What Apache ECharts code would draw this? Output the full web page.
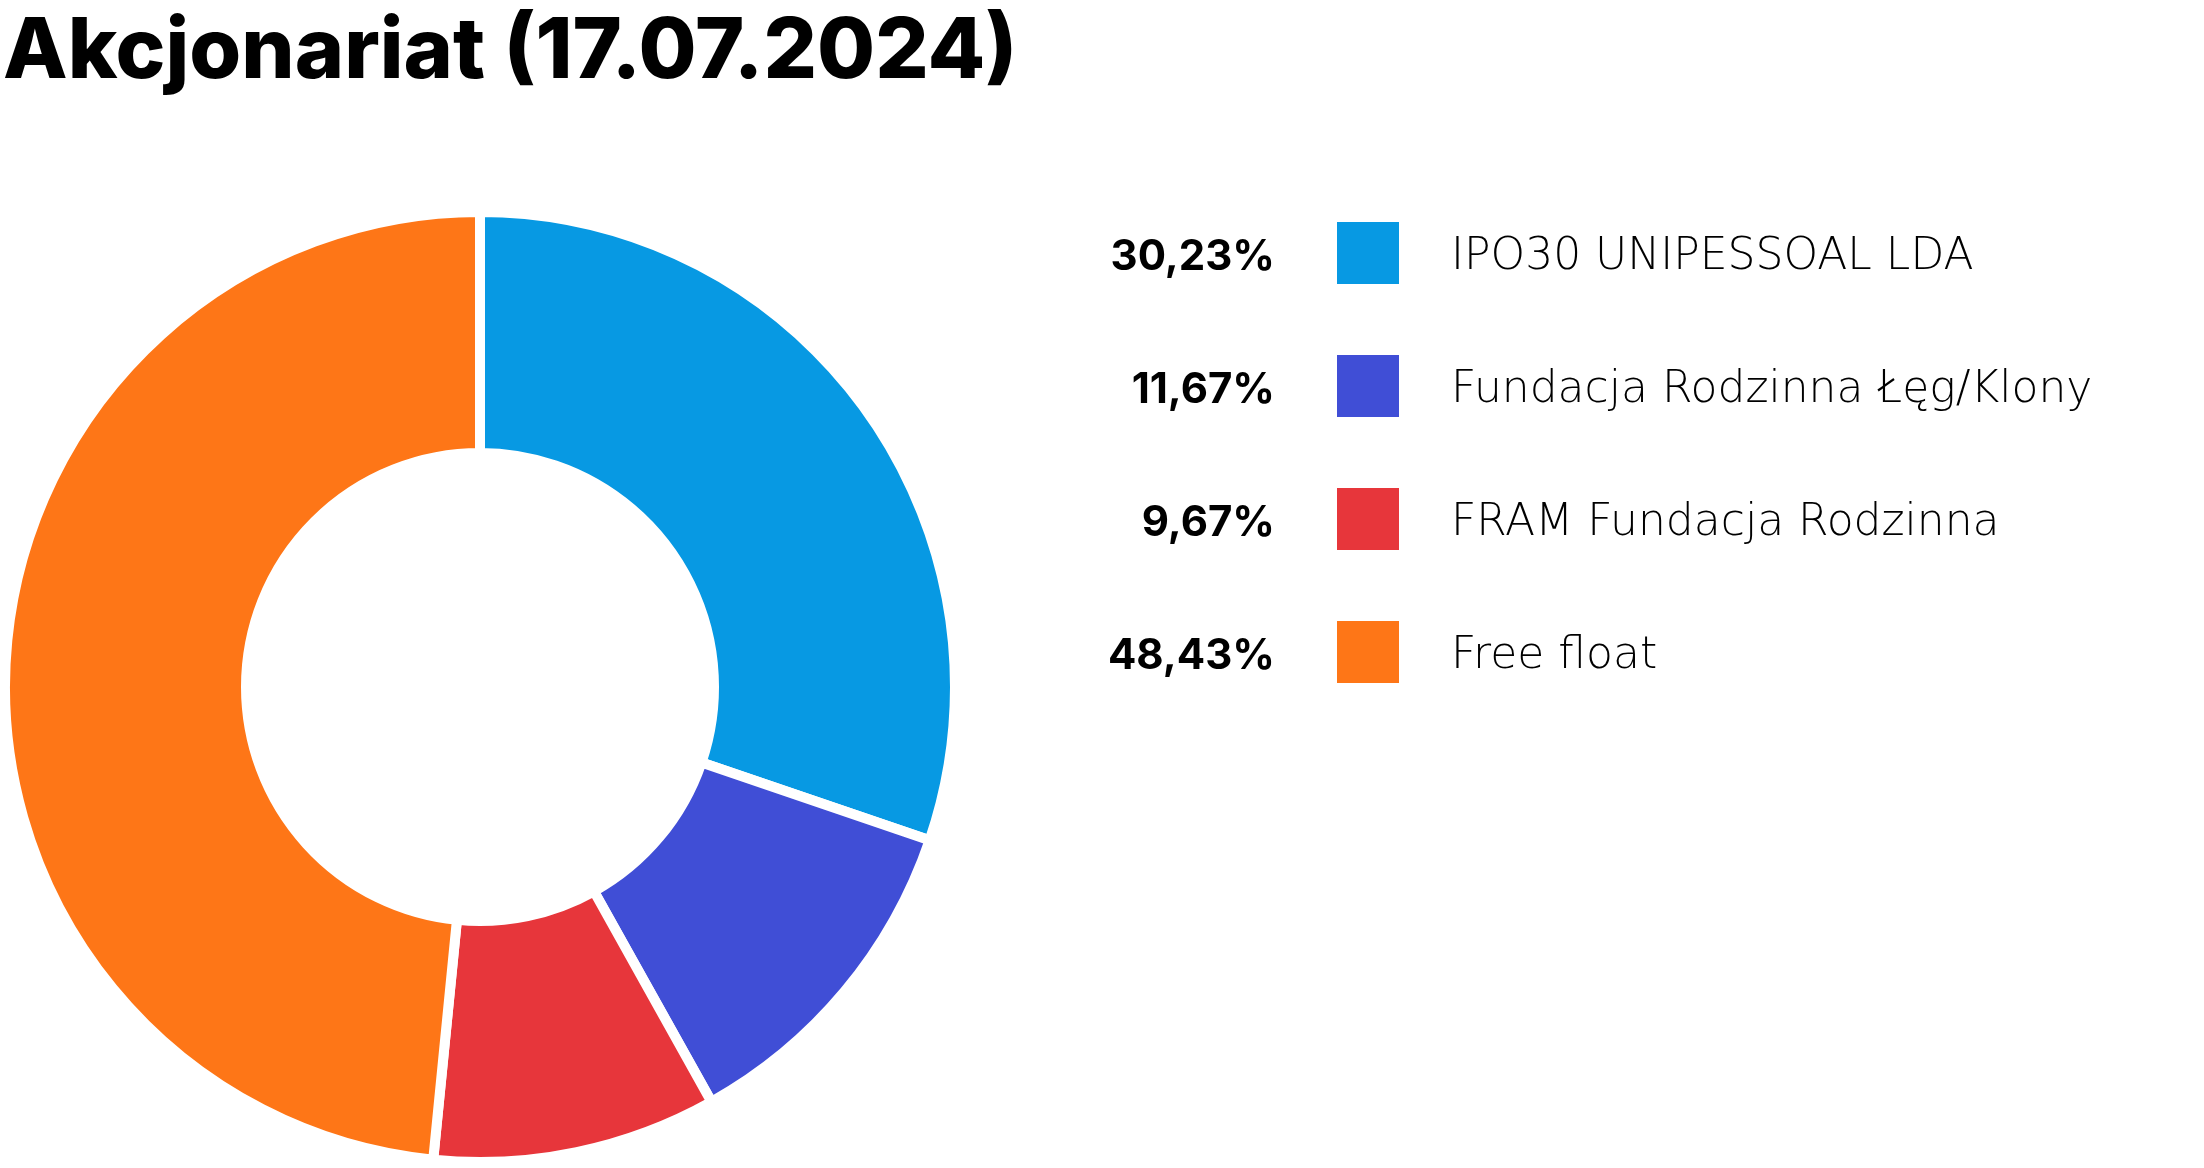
<!DOCTYPE html>
<html><head><meta charset="utf-8">
<script src="https://cdn.jsdelivr.net/npm/echarts@6/dist/echarts.min.js"></script>
<style>html,body{margin:0;padding:0;background:#fff}#c{width:2204px;height:1168px}</style>
</head><body><div id="c"></div>
<script>
const titleText = 'Akcjonariat (17.07.2024)';
const categories = ['IPO30 UNIPESSOAL LDA', 'Fundacja Rodzinna Łęg/Klony', 'FRAM Fundacja Rodzinna', 'Free float'];
const shares = [30.23, 11.67, 9.67, 48.43];
const colors = ['#0799E3', '#404ED6', '#E7363B', '#FE7617'];

const fmt = v => v.toFixed(2).replace('.', ',') + '%';
const valueByName = {};
categories.forEach((c, i) => valueByName[c] = shares[i]);

const chart = echarts.init(document.getElementById('c'));
const FONT = 'Inter, "Noto Sans", sans-serif';
chart.setOption({
  animation: false,
  title: {
    text: titleText, left: -2, top: 6,
    textStyle: { fontFamily: FONT, fontSize: 84, fontWeight: 800, color: '#000' }
  },
  legend: [
    {
      data: categories, orient: 'vertical', left: 1330, top: 215,
      icon: 'rect', itemWidth: 64, itemHeight: 64, itemGap: 67,
      selectedMode: false,
      formatter: n => '{n|' + n + '}',
      textStyle: { padding: [0, 0, 0, 46], rich: { n: { fontFamily: '"DejaVu Sans", sans-serif', fontSize: 44, fontWeight: 200, color: '#000', padding: [10, 0, 0, 0] } } }
    },
    {
      data: categories, orient: 'vertical', left: 1095, top: 215,
      icon: 'rect', itemWidth: 0, itemHeight: 64, itemGap: 67,
      selectedMode: false,
      itemStyle: { opacity: 0 },
      formatter: n => '{p|' + fmt(valueByName[n]) + '}',
      textStyle: { padding: [8, 0, 0, 0], rich: { p: { width: 169, align: 'right', fontFamily: FONT, fontSize: 42, fontWeight: 700, color: '#000' } } }
    }
  ],
  series: [{
    type: 'pie',
    center: [480, 687],
    radius: [234, 475],
    startAngle: 90,
    clockwise: true,
    label: { show: false },
    labelLine: { show: false },
    emphasis: { disabled: true },
    itemStyle: { borderColor: '#fff', borderWidth: 10 },
    data: categories.map((c, i) => ({ name: c, value: shares[i], itemStyle: { color: colors[i] } }))
  }]
});
</script></body></html>
